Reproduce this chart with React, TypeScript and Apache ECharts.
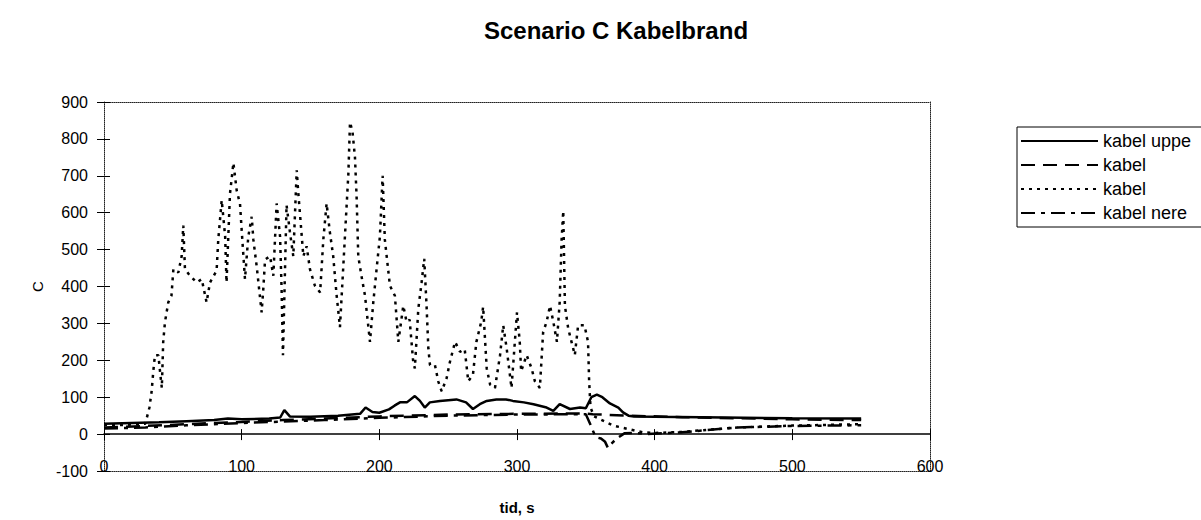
import React, { useEffect, useRef } from "react";
import * as echarts from "echarts";

// ---- data ----
const seriesNames = ["kabel uppe", "kabel", "kabel_2", "kabel nere"];
const legendLabels = ["kabel uppe", "kabel", "kabel", "kabel nere"];

const xTicks = [0, 100, 200, 300, 400, 500, 600];
const yTicks = [-100, 0, 100, 200, 300, 400, 500, 600, 700, 800, 900];

// kabel uppe (solid)
const uppeT = [0, 20, 40, 60, 80, 90, 100, 120, 128, 131, 135, 150, 170, 186, 190, 195, 200, 207, 211, 215, 220, 225.8, 229.5, 233, 236.7, 244, 256, 263, 268, 273, 278, 285, 292, 297, 305, 312, 321.5, 326.4, 331, 338.5, 345.8, 350, 354, 358, 362, 367.5, 373.6, 377, 381, 385, 400, 450, 500, 550];
const uppeV = [28, 30, 32, 35, 38, 42, 40, 42, 45, 65, 48, 47, 50, 55, 72, 60, 58, 67, 77, 86, 86, 103, 90, 72, 86, 90, 94, 86, 68, 81, 90, 94, 94, 90, 86, 81, 72, 63, 81, 68, 72, 70, 100, 107, 100, 83, 72, 59, 50, 48, 47, 45, 43, 42];

// kabel (dashed)
const kabelT = [0, 30, 60, 100, 130, 160, 200, 250, 300, 350, 355, 380, 420, 460, 500, 550];
const kabelV = [18, 22, 27, 33, 38, 42, 48, 53, 55, 56, 54, 50, 46, 43, 40, 38];

// kabel (dotted)
const kabel2T = [0, 10, 20, 30, 33, 34.6, 35.8, 37, 39.5, 40.7, 42, 43, 44.3, 46.7, 49, 50.4, 54, 56.4, 57.6, 58.8, 62.5, 67.3, 71, 74.5, 77, 81.8, 83, 85.5, 88, 89, 91.5, 94, 96.4, 98.8, 100, 102.4, 104.8, 107.3, 108.5, 110.9, 114.5, 115.7, 117, 120.6, 123, 125.4, 127.9, 129, 130, 132.6, 135, 137.5, 140, 141, 144.8, 147.2, 149.6, 153.2, 157, 159.3, 161.7, 164, 166.5, 169, 171.4, 175, 177.5, 178.7, 180.5, 182.3, 183.5, 184.7, 187, 189.6, 193.2, 195.6, 198, 200.4, 202.4, 204, 207.7, 211.3, 213.8, 217.4, 219.8, 222, 224.6, 225.8, 228.3, 230.7, 232.6, 234.3, 235.6, 236.8, 240.4, 242.8, 245.3, 248.9, 251.3, 255, 258.6, 262, 264.6, 268, 270.5, 274, 275.4, 278, 280.5, 284, 287.7, 290, 292.5, 296, 300, 302, 303, 307, 310.6, 313, 316.6, 318, 319, 321.5, 324, 326.4, 329, 331, 332.4, 333.6, 334.8, 337.2, 339.6, 342, 344.4, 349, 351.6, 352.4, 353.4, 356, 370, 391, 400, 420, 460, 500, 550];
const kabel2V = [25, 24, 26, 28, 72, 116, 170, 214, 214, 170, 125, 250, 304, 357, 375, 447, 438, 482, 565, 447, 429, 411, 420, 357, 411, 443, 527, 634, 536, 411, 651, 735, 660, 624, 553, 420, 535, 589, 527, 455, 330, 393, 473, 482, 429, 625, 535, 393, 214, 621, 549, 482, 715, 660, 482, 509, 447, 402, 384, 527, 625, 549, 482, 375, 290, 535, 705, 845, 820, 750, 642, 482, 429, 375, 250, 357, 447, 535, 700, 527, 402, 375, 250, 348, 304, 310, 196, 178, 339, 411, 475, 348, 232, 187, 187, 143, 116, 152, 196, 250, 223, 230, 143, 161, 250, 304, 345, 178, 134, 125, 214, 295, 232, 125, 330, 250, 170, 214, 178, 143, 125, 214, 277, 304, 348, 304, 250, 357, 527, 605, 348, 286, 250, 214, 295, 295, 250, 143, 72, 48, 23, 5, 3, 6, 18, 23, 27];

// kabel nere (dash-dot)
const nereT = [0, 30, 60, 100, 130, 160, 200, 250, 300, 350, 354, 357, 361, 364, 366, 368, 371, 374, 378, 385, 395, 420, 460, 500, 550];
const nereV = [15, 18, 24, 30, 34, 38, 44, 50, 53, 54, 20, -8, -12, -21, -37, -28, -17, -8, 2, 3, 0, 5, 18, 22, 24];

const pairs = (t: number[], v: number[]) => t.map((x, i) => [x, v[i]]);

const FONT = "'Liberation Sans', Arial, Helvetica, sans-serif";

export default function App() {
  const ref = useRef<HTMLDivElement>(null);
  useEffect(() => {
    document.body.style.margin = "0";
    if (!ref.current) return;
    const chart = echarts.init(ref.current, undefined, { renderer: "svg" });
    const dotted = { type: "dotted" as const, color: "#222", width: 1 };
    const xMin = xTicks[0], xMax = xTicks[xTicks.length - 1];
    const yMin = yTicks[0], yMax = yTicks[yTicks.length - 1];
    const xStep = xTicks[1] - xTicks[0], yStep = yTicks[1] - yTicks[0];
    chart.setOption({
      animation: false,
      backgroundColor: "#fff",
      title: {
        text: "Scenario C Kabelbrand",
        left: 611,
        top: 13,
        textAlign: "center",
        textStyle: { fontFamily: FONT, fontSize: 24, fontWeight: "bold", color: "#000" },
      },
      legend: {
        orient: "vertical",
        left: 1017,
        top: 127,
        itemWidth: 77,
        itemHeight: 14,
        itemGap: 6,
        padding: [5, 60, 5, 3],
        borderColor: "#000",
        borderWidth: 1,
        backgroundColor: "#fff",
        data: seriesNames,
        itemStyle: { opacity: 0 },
        formatter: (name: string) => legendLabels[seriesNames.indexOf(name)],
        textStyle: { fontFamily: FONT, fontSize: 18, color: "#000" },
      },
      grid: { left: 104, right: 271, top: 102, bottom: 46, containLabel: false },
      xAxis: [
        {
          type: "value", min: xMin, max: xMax, interval: xStep, position: "bottom",
          axisLine: { onZero: true, lineStyle: { color: "#000", width: 1.5 } },
          axisTick: { show: true, length: 6, lineStyle: { color: "#000" } },
          axisLabel: { show: false }, splitLine: { show: false },
        },
        {
          type: "value", min: xMin, max: xMax, interval: xStep, position: "bottom",
          axisLine: { onZero: false, lineStyle: dotted },
          axisTick: { show: false },
          axisLabel: { inside: true, margin: -3, fontFamily: FONT, fontSize: 16, color: "#000" },
          splitLine: { show: false },
          name: "tid, s", nameLocation: "middle", nameGap: 29,
          nameTextStyle: { fontFamily: FONT, fontSize: 15, fontWeight: "bold", color: "#000" },
        },
        {
          type: "value", min: xMin, max: xMax, interval: xStep, position: "top",
          axisLine: { onZero: false, lineStyle: dotted },
          axisTick: { show: false }, axisLabel: { show: false }, splitLine: { show: false },
        },
        {
          type: "value", min: xMin, max: xMax, interval: xStep, position: "bottom",
          axisLine: { show: false, onZero: true },
          axisTick: { show: true, inside: true, length: 5, lineStyle: { color: "#000" } },
          axisLabel: { show: false }, splitLine: { show: false },
        },
      ],
      yAxis: [
        {
          type: "value", min: yMin, max: yMax, interval: yStep, position: "left",
          axisLine: { onZero: false, lineStyle: dotted },
          axisTick: { show: true, length: 7, lineStyle: { color: "#000" } },
          axisLabel: { margin: 16, fontFamily: FONT, fontSize: 16, color: "#000" },
          splitLine: { show: false },
          name: "C", nameLocation: "middle", nameGap: 36,
          nameTextStyle: { fontFamily: FONT, fontSize: 15, color: "#000" },
        },
        {
          type: "value", min: yMin, max: yMax, interval: yStep, position: "left",
          axisLine: { show: false, onZero: false },
          axisTick: { show: true, inside: true, length: 6, lineStyle: { color: "#000" } },
          axisLabel: { show: false }, splitLine: { show: false },
        },
        {
          type: "value", min: yMin, max: yMax, interval: yStep, position: "right",
          axisLine: { onZero: false, lineStyle: dotted },
          axisTick: { show: false }, axisLabel: { show: false }, splitLine: { show: false },
        },
      ],
      series: [
        {
          name: seriesNames[0], type: "line", showSymbol: false, symbol: "none",
          data: pairs(uppeT, uppeV),
          lineStyle: { color: "#000", width: 2.5, type: "solid" },
          itemStyle: { color: "#000" },
        },
        {
          name: seriesNames[1], type: "line", showSymbol: false, symbol: "none",
          data: pairs(kabelT, kabelV),
          lineStyle: { color: "#000", width: 2.5, type: [14, 8] },
          itemStyle: { color: "#000" },
        },
        {
          name: seriesNames[2], type: "line", showSymbol: false, symbol: "none",
          data: pairs(kabel2T, kabel2V),
          lineStyle: { color: "#000", width: 2.5, type: [3, 5] },
          itemStyle: { color: "#000" },
        },
        {
          name: seriesNames[3], type: "line", showSymbol: false, symbol: "none",
          data: pairs(nereT, nereV),
          lineStyle: { color: "#000", width: 2.5, type: [14, 6, 4, 6] },
          itemStyle: { color: "#000" },
        },
      ],
    });
    return () => chart.dispose();
  }, []);
  return <div ref={ref} style={{ width: 1201, height: 520 }} />;
}
